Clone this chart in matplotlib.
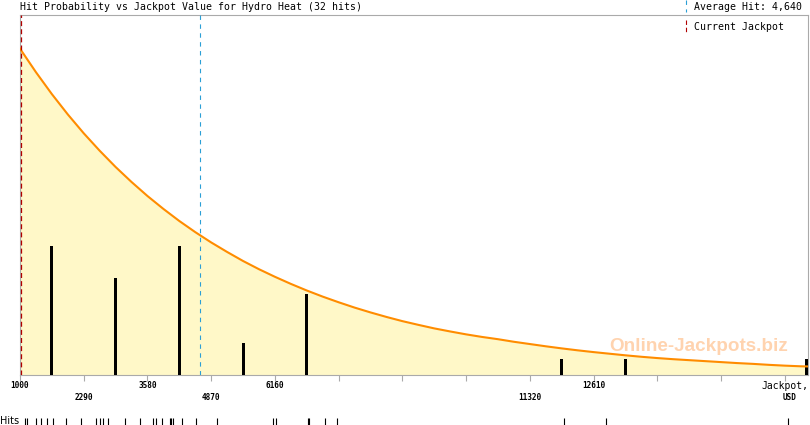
import matplotlib
matplotlib.use("Agg")
import matplotlib.pyplot as plt
from matplotlib.lines import Line2D
import numpy as np

# Data
game_name = "Hydro Heat"
hits = [1100, 1150, 1314, 1421, 1543, 1664, 1936, 2239,
        2543, 2610, 2677, 2778, 3122, 3426,
        3689, 3758, 3871, 4027, 4062, 4094, 4285, 4568,
        4985, 6119,
        6188, 6822, 6848, 7180, 7415,
        12012, 12871, 16548]
average_hit = 4640
current_jackpot = 1020
bin_start = 1000
bin_width = 1290
x_max = 16950

# probability curve, read at every quarter bin (hit-count scale)
curve_x = [1000 + 322.5 * k for k in range(50)] + [16950]
curve_y = [20.24, 18.78, 17.42, 16.16, 14.99, 13.91, 12.90, 11.97, 11.10, 10.30,
           9.55, 8.86, 8.22, 7.63, 7.07, 6.56, 6.09, 5.65, 5.24, 4.86,
           4.51, 4.18, 3.88, 3.60, 3.34, 3.11, 2.89, 2.70, 2.52, 2.36,
           2.22, 2.06, 1.92, 1.78, 1.65, 1.53, 1.42, 1.32, 1.22, 1.13,
           1.05, 0.98, 0.92, 0.86, 0.80, 0.74, 0.69, 0.63, 0.58, 0.54,
           0.53]

# colours
fill_col = "#fff8c8"
curve_col = "#ff8c00"
grid_col = "#aaaaaa"
avg_col = "#2a9fd6"
cur_col = "#b00000"
mono = "DejaVu Sans Mono"

W, H = 810, 425
fig = plt.figure(figsize=(W / 100, H / 100), dpi=100)
fig.patch.set_facecolor("white")

# main axes: x 20..808 px, y 15..375 px
ax = fig.add_axes([20 / W, (H - 375) / H, 788 / W, 360 / H])
ax.set_xlim(bin_start, x_max)
ax.set_ylim(0, 360 / 16.125)

edges = np.arange(bin_start, x_max + bin_width, bin_width)
counts, _ = np.histogram(hits, bins=edges)
centers = edges[:-1] + bin_width / 2
centers = np.minimum(centers, x_max - 30)

ax.fill_between(curve_x, curve_y, 0, color=fill_col, lw=0, zorder=1)
ax.plot(curve_x, curve_y, color=curve_col, lw=1.5, zorder=4)

nz = counts > 0
ax.bar(centers[nz], counts[nz], width=60, color="black", zorder=3)

ax.axvline(average_hit, color=avg_col, lw=0.8, ls=(0, (4, 4)), zorder=5)
ax.axvline(current_jackpot, color=cur_col, lw=0.9, ls=(0, (4, 2.5)), zorder=5)

for s in ax.spines.values():
    s.set_color(grid_col)
    s.set_linewidth(0.8)
ax.set_yticks([])
ax.set_xticks(edges[edges <= x_max])
ax.set_xticklabels([])
ax.tick_params(axis="x", direction="out", length=4.5, width=0.8, color=grid_col)

# tick labels: left edges of bins with hits, alternating rows
label_edges = [e for e, c in zip(edges[:-1], counts) if c > 0]
for i, e in enumerate(label_edges):
    off = -7.6 if i % 2 == 0 else -16.2
    if i == len(label_edges) - 1:
        ax.annotate("Jackpot,", (e, 0), xycoords=("data", "axes fraction"),
                    xytext=(0, -7.6), textcoords="offset points",
                    ha="center", va="center", fontsize=7, family=mono)
        ax.annotate("USD", (e + 100, 0), xycoords=("data", "axes fraction"),
                    xytext=(0, -16.2), textcoords="offset points",
                    ha="center", va="center", fontsize=5.6, family=mono,
                    fontweight="bold")
        continue
    ax.annotate(f"{e}", (e, 0), xycoords=("data", "axes fraction"),
                xytext=(0, off), textcoords="offset points",
                ha="center", va="center", fontsize=5.6, family=mono,
                fontweight="bold")

# watermark
ax.text(0.975, 0.078, "Online-Jackpots.biz", transform=ax.transAxes,
        ha="right", va="center", fontsize=13.6, fontweight="bold",
        family="Liberation Sans", color="#ffa860", alpha=0.5, zorder=6)

# title and legend
fig.text(20 / W, 1 - 7 / H, f"Hit Probability vs Jackpot Value for {game_name} ({len(hits)} hits)",
         ha="left", va="center", fontsize=7.1, family=mono)
fig.text(694 / W, 1 - 7 / H, f"Average Hit: {average_hit:,}",
         ha="left", va="center", fontsize=7.1, family=mono)
fig.text(694 / W, 1 - 27 / H, "Current Jackpot",
         ha="left", va="center", fontsize=7.1, family=mono)
fig.add_artist(Line2D([686 / W, 686 / W], [1 - 0 / H, 1 - 12 / H],
                      color=avg_col, lw=0.8, ls=(0, (4, 4))))
fig.add_artist(Line2D([686 / W, 686 / W], [1 - 20 / H, 1 - 34 / H],
                      color=cur_col, lw=0.8, ls=(0, (4, 2.5))))

# hits rug
rug = fig.add_axes([20 / W, 0, 788 / W, 9 / H])
rug.set_xlim(bin_start, x_max)
rug.set_ylim(0, 1)
rug.vlines(hits, 0.05, 0.78, color="black", lw=0.8)
rug.axis("off")
fig.text(0, 4.5 / H, "Hits", ha="left", va="center", fontsize=7, family="DejaVu Sans")

fig.savefig("out.png", dpi=100)
